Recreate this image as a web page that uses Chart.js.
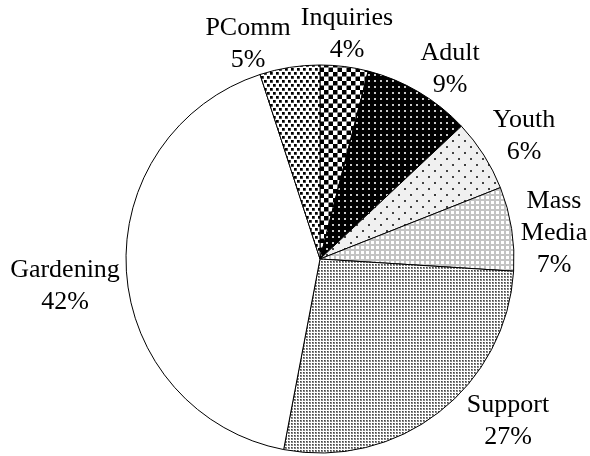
<!DOCTYPE html>
<html>
<head>
<title>Program mix</title>
<script src="https://cdn.jsdelivr.net/npm/chart.js"></script>
<style>
  body { margin: 0; background: #fff; }
  #wrap { width: 590px; height: 456px; }
</style>
</head>
<body>
<div id="wrap"><canvas id="myPieChart" width="590" height="456"></canvas></div>
<script>
// dane (procenty, zgodnie z ruchem wskazowek zegara od gory)
const categories = ['Inquiries', 'Adult', 'Youth', 'Mass Media', 'Support', 'Gardening', 'PComm'];
const shares = [4, 9, 6, 7, 27, 42, 5];

// przesuniecia etykiet wzgledem srodka kola (x, linia bazowa pierwszego wiersza)
const labelOffsets = [[27, -234], [130, -199], [204, -132], [234, -51], [188, 153], [-255, 18], [-72, -224]];

const canvas = document.getElementById('myPieChart');
const ctx = canvas.getContext('2d');

// maly kafelek -> wzor wypelnienia
function tile(w, h, draw) {
  const c = document.createElement('canvas');
  c.width = w; c.height = h;
  const g = c.getContext('2d');
  draw(g, w, h);
  return ctx.createPattern(c, 'repeat');
}

const checker = tile(9, 9, (g) => {
  g.fillStyle = '#fff'; g.fillRect(0, 0, 9, 9);
  g.fillStyle = '#000'; g.fillRect(0, 0, 4.5, 4.5); g.fillRect(4.5, 4.5, 4.5, 4.5);
});
const darkDots = tile(6, 6, (g) => {
  g.fillStyle = '#000'; g.fillRect(0, 0, 6, 6);
  g.fillStyle = '#c8c8c8'; g.fillRect(2, 2, 2, 2);
});
const lightDots = tile(12, 12, (g) => {
  g.fillStyle = '#f0f0f0'; g.fillRect(0, 0, 12, 12);
  g.fillStyle = '#444'; g.fillRect(2, 2, 2, 2); g.fillRect(8, 8, 2, 2);
});
const grid = tile(5, 5, (g) => {
  g.fillStyle = '#c4c4c4'; g.fillRect(0, 0, 5, 5);
  g.fillStyle = '#fff'; g.fillRect(1, 1, 3, 3);
});
const fineDots = tile(3, 3, (g) => {
  g.fillStyle = '#fff'; g.fillRect(0, 0, 3, 3);
  g.fillStyle = '#858585'; g.fillRect(0, 0, 2, 2);
  g.fillStyle = '#444'; g.fillRect(0, 0, 1, 1);
});
const squares = tile(6, 8, (g) => {
  g.fillStyle = '#fff'; g.fillRect(0, 0, 6, 8);
  g.fillStyle = '#888'; g.fillRect(0, 0, 3, 3); g.fillRect(3, 4, 3, 3);
  g.fillStyle = '#000'; g.fillRect(0, 0, 2.5, 2.5); g.fillRect(3, 4, 2.5, 2.5);
});

const fills = [checker, darkDots, lightDots, grid, fineDots, '#ffffff', squares];

// etykiety na zewnatrz kola
const outsideLabels = {
  id: 'outsideLabels',
  afterDatasetsDraw(chart) {
    const c = chart.ctx;
    const arcs = chart.getDatasetMeta(0).data;
    c.save();
    c.font = '26px "Liberation Serif", "Times New Roman", serif';
    c.fillStyle = '#000';
    c.textAlign = 'center';
    c.textBaseline = 'alphabetic';
    arcs.forEach((arc, i) => {
      const lines = categories[i].split(' ').concat(shares[i] + '%');
      const off = labelOffsets[i];
      lines.forEach((t, k) => c.fillText(t, arc.x + off[0], arc.y + off[1] + k * 32));
    });
    c.restore();
  }
};

new Chart(ctx, {
  type: 'pie',
  data: {
    labels: categories,
    datasets: [{
      data: shares,
      backgroundColor: fills,
      borderColor: '#000',
      borderWidth: 1
    }]
  },
  options: {
    responsive: false,
    animation: false,
    layout: { padding: { top: 64.5, bottom: 2.5, left: 50, right: 0 } },
    plugins: {
      legend: { display: false },
      tooltip: { enabled: false }
    }
  },
  plugins: [outsideLabels]
});
</script>
</body>
</html>
